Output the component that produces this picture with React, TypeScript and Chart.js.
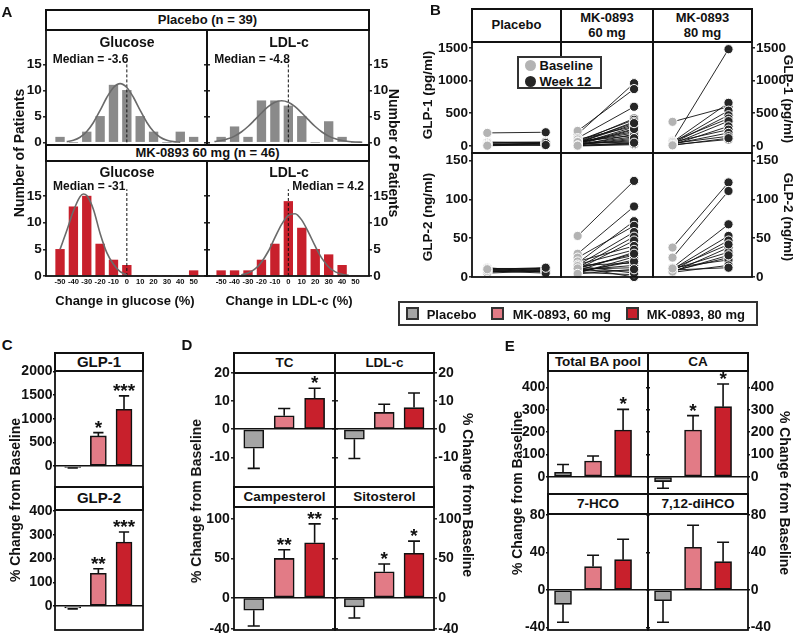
import React, { useEffect, useRef } from 'react';
import { Chart, registerables } from 'chart.js';

Chart.register(...registerables);

const FONT = '"Liberation Sans", Arial, Helvetica, sans-serif';
const INK = '#111111';

// ---------------- Panel A : histograms ----------------
const binCenters = [-50, -40, -30, -20, -10, 0, 10, 20, 30, 40, 50];
const changeTicks = [-50, -40, -30, -20, -10, 0, 10, 20, 30, 40, 50];
const countTicks = [0, 5, 10, 15];
const placeboGlucoseCounts = [1, 0, 2, 5, 11, 10, 5, 2, 0, 2, 1];
const placeboLdlCounts = [1, 3, 1, 8, 8, 7, 5, 0, 4, 1, 0];
const mk60GlucoseCounts = [5, 13, 15, 6, 3, 2, 0, 0, 0, 0, 1];
const mk60LdlCounts = [1, 1, 1, 3, 6, 14, 9, 5, 4, 2, 0];
const placeboGlucoseFitX = [-45, -40, -35, -30, -25, -20, -15, -10, -5, 0, 5, 10, 15, 20, 25, 30, 35, 40];
const placeboGlucoseFitY = [0.15, 0.41, 0.99, 2.09, 3.83, 6.15, 8.63, 10.56, 11.3, 10.56, 8.63, 6.15, 3.83, 2.09, 0.99, 0.41, 0.15, 0.05];
const placeboLdlFitX = [-55, -50, -45, -40, -35, -30, -25, -20, -15, -10, -5, 0, 5, 10, 15, 20, 25, 30, 35, 40, 45, 50, 55];
const placeboLdlFitY = [0.17, 0.35, 0.68, 1.21, 2.0, 3.05, 4.32, 5.65, 6.86, 7.7, 8, 7.7, 6.86, 5.65, 4.32, 3.05, 2.0, 1.21, 0.68, 0.35, 0.17, 0.08, 0.03];
const mk60GlucoseFitX = [-50, -45, -40, -35, -32.5, -30, -25, -20, -15, -10, -5, 0];
const mk60GlucoseFitY = [5, 8.5, 12.2, 14.9, 15.4, 15.1, 12.5, 8.0, 4.4, 2.2, 0.8, 0.2];
const mk60LdlFitX = [-35, -30, -25, -20, -15, -10, -5, 0, 5, 10, 15, 20, 25, 30, 35, 40, 45];
const mk60LdlFitY = [0.2, 0.55, 1.27, 2.6, 4.6, 7.2, 9.7, 11.4, 11.7, 10.5, 8.2, 5.6, 3.3, 1.7, 0.78, 0.31, 0.1];
const medianPlaceboGlucose = '-3.6';
const medianPlaceboLdl = '-4.8';
const medianMk60Glucose = '-31';
const medianMk60Ldl = '4.2';

// ---------------- Panel B : individual GLP-1 / GLP-2 ----------------
const glp1Ticks = [0, 500, 1000, 1500];
const glp2Ticks = [0, 50, 100, 150];
const glp1PlaceboBaseline = [200, 60, 45, 30, 20, 10, 50, 30, 15, 5];
const glp1PlaceboWeek12 = [210, 55, 50, 40, 30, 20, 60, 10, 45, 15];
const glp1Mk60Baseline = [180, 230, 120, 60, 80, 40, 50, 30, 20, 60, 10, 30, 20, 40, 10, 0, 100, 50, 70, 30, 20, 40, 60, 10, 5];
const glp1Mk60Week12 = [960, 870, 600, 420, 400, 370, 330, 290, 250, 220, 180, 140, 100, 60, 40, 20, 300, 200, 160, 80, 120, 260, 350, 30, 50];
const glp1Mk80Baseline = [80, 370, 60, 50, 40, 70, 30, 20, 60, 30, 40, 20, 10];
const glp1Mk80Week12 = [1480, 600, 660, 540, 470, 420, 380, 300, 250, 200, 150, 100, 120];
const glp2PlaceboBaseline = [10, 8, 6, 12, 9, 7, 11, 5, 8, 10];
const glp2PlaceboWeek12 = [8, 10, 12, 6, 9, 7, 11, 8, 5, 12];
const glp2Mk60Baseline = [53, 30, 18, 25, 15, 12, 10, 20, 8, 12, 6, 15, 10, 8, 6, 12, 16, 5, 9, 14, 7, 11, 4];
const glp2Mk60Week12 = [124, 91, 72, 66, 58, 52, 47, 40, 32, 28, 22, 18, 12, 8, 3, 0, 35, 26, 15, 5, 20, 30, 10];
const glp2Mk80Baseline = [38, 25, 12, 10, 8, 6, 10, 8, 12, 6, 9, 7, 11];
const glp2Mk80Week12 = [122, 111, 68, 53, 47, 38, 32, 25, 22, 15, 12, 28, 42];

// ---------------- Panels C, D, E : % change from baseline ----------------
const groups = ['Placebo', 'MK-0893, 60 mg', 'MK-0893, 80 mg'];
const groupColors = ['#a5a5a5', '#e27b86', '#c8202c'];
const glp1Change = [-28, 636, 1200];
const glp1ChangeErr = [-40, 705, 1483];
const glp1Stars = ['', '*', '***'];
const glp2Change = [-8.4, 138, 270];
const glp2ChangeErr = [-12, 157, 312];
const glp2Stars = ['', '**', '***'];
const tcChange = [-6.7, 4.8, 11];
const tcErr = [-13.9, 7.4, 14.6];
const tcStars = ['', '', '*'];
const ldlChange = [-3.5, 6, 7.7];
const ldlErr = [-10.4, 8.9, 12.9];
const ldlStars = ['', '', ''];
const campesterolChange = [-16, 50, 70];
const campesterolErr = [-36, 61, 94];
const campesterolStars = ['', '**', '**'];
const sitosterolChange = [-11.7, 33, 56.6];
const sitosterolErr = [-25.8, 43, 72];
const sitosterolStars = ['', '*', '*'];
const totalBaChange = [20, 70, 209];
const totalBaErr = [55, 93, 302];
const totalBaStars = ['', '', '*'];
const caChange = [-22, 209, 314];
const caErr = [-52, 274, 416];
const caStars = ['', '*', '*'];
const hco7Change = [-15.3, 24.9, 32.3];
const hco7Err = [-34.5, 37, 54];
const hco7Stars = ['', '', ''];
const dihco712Change = [-11.4, 45.5, 30.2];
const dihco712Err = [-34.5, 69, 50.9];
const dihco712Stars = ['', '', ''];
const glp1PctTicks = [0, 500, 1000, 1500, 2000];
const glp2PctTicks = [0, 100, 200, 300, 400];
const lipidTopTicks = [-10, 0, 10, 20];
const sterolTicks = [-40, 0, 50, 100];
const baTopTicks = [0, 100, 200, 300, 400];
const baBottomTicks = [-40, 0, 40, 80];

// ---------------- chart helpers ----------------
const PADL = 50, PADR = 50, PADT = 12, PADB = 22;
type Side = 'labels' | 'marks' | 'none';
type Note = { x: number; y: number; text: string; size: number; align?: any; baseline?: any; dx?: number; dy?: number };
type Spec = {
  type: 'bar' | 'scatter';
  l: number; t: number; w: number; h: number;
  xr: [number, number]; yr: [number, number];
  yTicks: number[];
  left: Side; right: Side;
  font: number; tickLen: number; tickPad: number;
  xTicks?: number[]; xFont?: number;
  zeroLine?: boolean;
  datasets: any[];
  notes?: Note[];
};

function makeConfig(s: Spec): any {
  const font = { family: FONT, size: s.font, weight: 'bold' };
  const yAxis = (side: 'left' | 'right') => {
    const mode = side === 'left' ? s.left : s.right;
    const zero = side === 'left' && !!s.zeroLine;
    return {
      type: 'linear', position: side, min: s.yr[0], max: s.yr[1], offset: false,
      afterBuildTicks: (sc: any) => { sc.ticks = s.yTicks.map((v) => ({ value: v })); },
      afterFit: (sc: any) => { sc.width = side === 'left' ? PADL : PADR; },
      grid: {
        display: mode !== 'none' || zero,
        drawOnChartArea: zero,
        drawTicks: mode !== 'none',
        tickLength: s.tickLen,
        lineWidth: 1.6,
        tickWidth: 1.4,
        color: (c: any) => (c.tick && c.tick.value === 0 ? INK : 'rgba(0,0,0,0)'),
        tickColor: INK,
      },
      border: { display: false },
      ticks: { display: mode === 'labels', font, color: INK, padding: s.tickPad, callback: (v: any) => String(v) },
    };
  };
  const xTicks = s.xTicks;
  return {
    type: s.type,
    data: { datasets: s.datasets },
    options: {
      responsive: false, maintainAspectRatio: false, animation: false, devicePixelRatio: 1,
      events: [],
      layout: { padding: { top: PADT, left: 0, right: 0, bottom: 0 } },
      plugins: { legend: { display: false }, tooltip: { enabled: false }, title: { display: false } },
      scales: {
        x: {
          type: 'linear', position: 'bottom', min: s.xr[0], max: s.xr[1], offset: false,
          afterBuildTicks: xTicks ? (sc: any) => { sc.ticks = xTicks.map((v) => ({ value: v })); } : undefined,
          afterFit: (sc: any) => { sc.height = PADB; },
          grid: { display: false, drawTicks: false },
          border: { display: false },
          ticks: {
            display: !!xTicks, autoSkip: false, maxRotation: 0, minRotation: 0, padding: 1.2, color: INK,
            font: { family: FONT, size: s.xFont || 8, weight: 'bold' }, callback: (v: any) => String(v),
          },
        },
        y: yAxis('left'),
        y2: yAxis('right'),
      },
    },
    plugins: [
      {
        id: 'frameAndNotes',
        afterDatasetsDraw(chart: any) {
          const { ctx, chartArea: a } = chart;
          ctx.save();
          ctx.strokeStyle = INK;
          ctx.lineWidth = 1.8;
          ctx.strokeRect(a.left, a.top, a.right - a.left, a.bottom - a.top);
          for (const n of s.notes || []) {
            const px = chart.scales.x.getPixelForValue(n.x) + (n.dx || 0);
            const py = chart.scales.y.getPixelForValue(n.y) + (n.dy || 0);
            ctx.font = `bold ${n.size}px ${FONT}`;
            ctx.fillStyle = INK;
            ctx.textAlign = n.align || 'center';
            ctx.textBaseline = n.baseline || 'alphabetic';
            ctx.fillText(n.text, px, py);
          }
          ctx.restore();
        },
      },
    ],
  };
}

function Plot({ spec }: { spec: Spec }) {
  const ref = useRef<HTMLCanvasElement>(null);
  const W = spec.w + PADL + PADR;
  const H = spec.h + PADT + PADB;
  useEffect(() => {
    const chart = new Chart(ref.current as HTMLCanvasElement, makeConfig(spec));
    return () => chart.destroy();
  }, []);
  return (
    <canvas
      ref={ref}
      width={W}
      height={H}
      style={{ position: 'absolute', left: spec.l - PADL, top: spec.t - PADT, width: W, height: H }}
    />
  );
}

// ---- panel A builder ----
function histSpec(o: any): Spec {
  const datasets = [
    {
      type: 'line', data: o.fitX.map((x: number, i: number) => ({ x, y: o.fitY[i] })),
      borderColor: '#6a6a6a', borderWidth: 1.6, pointRadius: 0, cubicInterpolationMode: 'monotone', order: 0,
    },
    {
      type: 'line', data: [{ x: 0, y: 0 }, { x: 0, y: o.dashTop }],
      borderColor: INK, borderWidth: 1, borderDash: [3, 2], pointRadius: 0, order: 1,
    },
    {
      type: 'bar', data: binCenters.map((x, i) => ({ x, y: o.counts[i] })),
      backgroundColor: o.color, borderWidth: 0, barThickness: 8.7, grouped: false, order: 2,
    },
  ];
  return {
    type: 'bar', l: o.l, t: o.t, w: o.w, h: o.h, xr: [-60.5, 60], yr: o.yr, yTicks: countTicks,
    left: o.left, right: o.right, font: 13.5, tickLen: 3, tickPad: 1.3,
    xTicks: o.xTicks, xFont: 7.6, datasets,
    notes: [{ x: 0, y: o.medY, text: `Median = ${o.median}`, size: 12, align: o.align, baseline: 'middle', dx: o.dx }],
  };
}

// ---- panel B builder ----
function pairSpec(o: any): Spec {
  const lines = o.base.map((b: number, i: number) => ({
    type: 'line', data: [{ x: 0, y: b }, { x: 1, y: o.wk[i] }],
    borderColor: INK, borderWidth: 0.9, pointRadius: 0, order: 3, clip: false,
  }));
  const datasets = [
    {
      type: 'scatter', data: o.wk.map((v: number) => ({ x: 1, y: v })),
      backgroundColor: '#262626', borderColor: '#ffffff', borderWidth: 1, pointRadius: 4.6, order: 1, clip: false,
    },
    {
      type: 'scatter', data: o.base.map((v: number) => ({ x: 0, y: v })),
      backgroundColor: '#b3b3b3', borderColor: '#ffffff', borderWidth: 1, pointRadius: 4.6, order: 2, clip: false,
    },
    ...lines,
  ];
  return {
    type: 'scatter', l: o.l, t: o.t, w: o.w, h: o.h, xr: o.xr, yr: o.yr, yTicks: o.ticks,
    left: o.left, right: o.right, font: 13.5, tickLen: 3, tickPad: 1, datasets,
  };
}

// ---- panels C/D/E builder ----
const CAP = 0.2;
function barSpec(o: any): Spec {
  const datasets: any[] = [
    {
      type: 'bar', data: o.values.map((v: number, i: number) => ({ x: i, y: v })),
      backgroundColor: groupColors, borderColor: INK, borderWidth: 1.6, borderSkipped: false,
      barThickness: o.barW, grouped: false, order: 1,
    },
  ];
  o.values.forEach((v: number, i: number) => {
    const e = o.errs[i];
    datasets.push({
      type: 'line', data: [{ x: i, y: v }, { x: i, y: e }, { x: i - CAP, y: e }, { x: i + CAP, y: e }],
      borderColor: INK, borderWidth: 1.6, pointRadius: 0, order: 2, clip: false,
    });
  });
  const notes: Note[] = [];
  o.stars.forEach((st: string, i: number) => {
    if (st) notes.push({ x: i, y: o.errs[i], text: st, size: 19, dy: 1 });
  });
  return {
    type: 'bar', l: o.l, t: o.t, w: o.w, h: o.h, xr: o.xr, yr: o.yr, yTicks: o.ticks,
    left: o.left, right: o.right, font: o.font || 14, tickLen: o.tickLen, tickPad: o.tickPad,
    zeroLine: true, datasets, notes,
  };
}

const RED = '#c8202c';
const GRAY = '#8a8a8a';

const specs: Spec[] = [
  // A
  histSpec({ l: 46, t: 30, w: 161, h: 115, yr: [-0.5, 21.6], counts: placeboGlucoseCounts, color: GRAY, fitX: placeboGlucoseFitX, fitY: placeboGlucoseFitY, dashTop: 15.3, median: medianPlaceboGlucose, medY: 15.9, align: 'right', dx: 1.5, left: 'labels', right: 'marks' }),
  histSpec({ l: 207, t: 30, w: 162, h: 115, yr: [-0.5, 21.6], counts: placeboLdlCounts, color: GRAY, fitX: placeboLdlFitX, fitY: placeboLdlFitY, dashTop: 15.2, median: medianPlaceboLdl, medY: 15.9, align: 'right', dx: 1.5, left: 'marks', right: 'labels' }),
  histSpec({ l: 46, t: 161, w: 161, h: 115, yr: [0, 21.6], counts: mk60GlucoseCounts, color: RED, fitX: mk60GlucoseFitX, fitY: mk60GlucoseFitY, dashTop: 16.3, median: medianMk60Glucose, medY: 16.8, align: 'right', dx: -1.5, left: 'labels', right: 'marks', xTicks: changeTicks }),
  histSpec({ l: 207, t: 161, w: 162, h: 115, yr: [0, 21.6], counts: mk60LdlCounts, color: RED, fitX: mk60LdlFitX, fitY: mk60LdlFitY, dashTop: 16.3, median: medianMk60Ldl, medY: 16.8, align: 'left', dx: 4, left: 'marks', right: 'labels', xTicks: changeTicks }),
  // B
  pairSpec({ l: 472, t: 42, w: 89, h: 111, xr: [-0.262, 1.262], yr: [-107, 1590], ticks: glp1Ticks, left: 'labels', right: 'none', base: glp1PlaceboBaseline, wk: glp1PlaceboWeek12 }),
  pairSpec({ l: 561, t: 42, w: 92, h: 111, xr: [-0.295, 1.336], yr: [-107, 1590], ticks: glp1Ticks, left: 'none', right: 'none', base: glp1Mk60Baseline, wk: glp1Mk60Week12 }),
  pairSpec({ l: 653, t: 42, w: 99, h: 111, xr: [-0.349, 1.42], yr: [-107, 1590], ticks: glp1Ticks, left: 'none', right: 'labels', base: glp1Mk80Baseline, wk: glp1Mk80Week12 }),
  pairSpec({ l: 472, t: 153, w: 89, h: 124, xr: [-0.262, 1.262], yr: [0, 160], ticks: glp2Ticks, left: 'labels', right: 'none', base: glp2PlaceboBaseline, wk: glp2PlaceboWeek12 }),
  pairSpec({ l: 561, t: 153, w: 92, h: 124, xr: [-0.295, 1.336], yr: [0, 160], ticks: glp2Ticks, left: 'none', right: 'none', base: glp2Mk60Baseline, wk: glp2Mk60Week12 }),
  pairSpec({ l: 653, t: 153, w: 99, h: 124, xr: [-0.349, 1.42], yr: [0, 160], ticks: glp2Ticks, left: 'none', right: 'labels', base: glp2Mk80Baseline, wk: glp2Mk80Week12 }),
  // C
  barSpec({ l: 55, t: 371, w: 88, h: 116, xr: [-0.69, 2.74], yr: [-445, 2010], ticks: glp1PctTicks, left: 'labels', right: 'none', tickLen: 2, tickPad: 0.5, barW: 16, values: glp1Change, errs: glp1ChangeErr, stars: glp1Stars }),
  barSpec({ l: 55, t: 510, w: 88, h: 120, xr: [-0.69, 2.74], yr: [-101, 405], ticks: glp2PctTicks, left: 'labels', right: 'none', tickLen: 2, tickPad: 0.5, barW: 16, values: glp2Change, errs: glp2ChangeErr, stars: glp2Stars }),
  // D
  barSpec({ l: 234, t: 373, w: 101, h: 114, xr: [-0.65, 2.67], yr: [-20.5, 20], ticks: lipidTopTicks, left: 'labels', right: 'marks', tickLen: 3, tickPad: 1.3, barW: 20, values: tcChange, errs: tcErr, stars: tcStars }),
  barSpec({ l: 335, t: 373, w: 99, h: 114, xr: [-0.65, 2.67], yr: [-20.5, 20], ticks: lipidTopTicks, left: 'marks', right: 'labels', tickLen: 3, tickPad: 1.3, barW: 20, values: ldlChange, errs: ldlErr, stars: ldlStars }),
  barSpec({ l: 234, t: 507, w: 101, h: 123, xr: [-0.65, 2.67], yr: [-41.1, 115.5], ticks: sterolTicks, left: 'labels', right: 'marks', tickLen: 3, tickPad: 1.3, barW: 20, values: campesterolChange, errs: campesterolErr, stars: campesterolStars }),
  barSpec({ l: 335, t: 507, w: 99, h: 123, xr: [-0.65, 2.67], yr: [-41.1, 115.5], ticks: sterolTicks, left: 'marks', right: 'labels', tickLen: 3, tickPad: 1.3, barW: 20, values: sitosterolChange, errs: sitosterolErr, stars: sitosterolStars }),
  // E
  barSpec({ l: 548, t: 371, w: 100, h: 123, xr: [-0.5, 2.83], yr: [-77.6, 474], ticks: baTopTicks, left: 'labels', right: 'marks', tickLen: 2, tickPad: 0.7, barW: 17, values: totalBaChange, errs: totalBaErr, stars: totalBaStars }),
  barSpec({ l: 648, t: 371, w: 100, h: 123, xr: [-0.5, 2.83], yr: [-77.6, 474], ticks: baTopTicks, left: 'marks', right: 'labels', tickLen: 2, tickPad: 0.7, barW: 17, values: caChange, errs: caErr, stars: caStars }),
  barSpec({ l: 548, t: 514, w: 100, h: 116, xr: [-0.5, 2.83], yr: [-42.7, 81], ticks: baBottomTicks, left: 'labels', right: 'marks', tickLen: 2, tickPad: 0.7, barW: 17, values: hco7Change, errs: hco7Err, stars: hco7Stars }),
  barSpec({ l: 648, t: 514, w: 100, h: 116, xr: [-0.5, 2.83], yr: [-42.7, 81], ticks: baBottomTicks, left: 'marks', right: 'labels', tickLen: 2, tickPad: 0.7, barW: 17, values: dihco712Change, errs: dihco712Err, stars: dihco712Stars }),
];

// ---------------- HTML text helpers ----------------
function Txt({ x, y, size, rot = 0, children, anchor = 'center' }: any) {
  const tx = anchor === 'left' ? '0' : '-50%';
  return (
    <div
      style={{
        position: 'absolute', left: x, top: y, transform: `translate(${tx},-50%) rotate(${rot}deg)`,
        whiteSpace: 'nowrap', fontFamily: FONT, fontWeight: 'bold', fontSize: size, lineHeight: 1, color: INK,
      }}
    >
      {children}
    </div>
  );
}

function Cell({ l, t, w, h, size, children }: any) {
  return (
    <div
      style={{
        position: 'absolute', left: l - 1, top: t - 1, width: w + 2, height: h + 2, boxSizing: 'border-box',
        border: `2px solid ${INK}`, display: 'flex', alignItems: 'center', justifyContent: 'center', textAlign: 'center',
        fontFamily: FONT, fontWeight: 'bold', fontSize: size, lineHeight: 1.08, color: INK, background: '#fff',
      }}
    >
      <div>{children}</div>
    </div>
  );
}

function Dot({ x, y, color }: any) {
  return (
    <div style={{ position: 'absolute', left: x - 5.5, top: y - 5.5, width: 11, height: 11, borderRadius: '50%', background: color }} />
  );
}

function Swatch({ x, y, color }: any) {
  return (
    <div style={{ position: 'absolute', left: x, top: y - 6.5, width: 13, height: 13, boxSizing: 'border-box', border: '2px solid #333', background: color }} />
  );
}

export default function App() {
  return (
    <div style={{ position: 'absolute', left: 0, top: 0, width: 799, height: 633, background: '#fff', overflow: 'hidden' }}>
      {specs.map((s, i) => (
        <Plot key={i} spec={s} />
      ))}

      {/* panel letters */}
      <Txt x={7} y={10.5} size={15}>A</Txt>
      <Txt x={435.3} y={8.7} size={15}>B</Txt>
      <Txt x={7.2} y={344} size={15}>C</Txt>
      <Txt x={187} y={344} size={15}>D</Txt>
      <Txt x={509.7} y={345} size={15}>E</Txt>

      {/* Panel A */}
      <Cell l={46} t={10} w={323} h={20} size={13}>Placebo (n = 39)</Cell>
      <Cell l={46} t={145} w={323} h={16} size={13}>MK-0893 60 mg (n = 46)</Cell>
      <Txt x={127} y={42} size={14}>Glucose</Txt>
      <Txt x={289} y={42} size={14}>LDL-c</Txt>
      <Txt x={127} y={172} size={14}>Glucose</Txt>
      <Txt x={289} y={172} size={14}>LDL-c</Txt>
      <Txt x={125} y={300} size={13}>Change in glucose (%)</Txt>
      <Txt x={289} y={300} size={13}>Change in LDL-c (%)</Txt>
      <Txt x={19} y={153} size={14} rot={-90}>Number of Patients</Txt>
      <Txt x={394} y={153} size={14} rot={90}>Number of Patients</Txt>

      {/* Panel B */}
      <Cell l={472} t={9} w={89} h={33} size={13}>Placebo</Cell>
      <Cell l={561} t={9} w={92} h={33} size={13}>MK-0893<br />60 mg</Cell>
      <Cell l={653} t={9} w={99} h={33} size={13}>MK-0893<br />80 mg</Cell>
      <Txt x={428} y={95} size={13.5} rot={-90}>GLP-1 (pg/ml)</Txt>
      <Txt x={788} y={99} size={13.5} rot={90}>GLP-1 (pg/ml)</Txt>
      <Txt x={428} y={217} size={13.5} rot={-90}>GLP-2 (ng/ml)</Txt>
      <Txt x={788} y={217} size={13.5} rot={90}>GLP-2 (ng/ml)</Txt>
      <div style={{ position: 'absolute', left: 517, top: 56, width: 85, height: 33, boxSizing: 'border-box', border: '2px solid #333', background: '#fff' }} />
      <Dot x={530} y={65} color="#b3b3b3" />
      <Dot x={530} y={81} color="#262626" />
      <Txt x={539.5} y={65} size={13} anchor="left">Baseline</Txt>
      <Txt x={539.5} y={81} size={13} anchor="left">Week 12</Txt>

      {/* shared legend */}
      <div style={{ position: 'absolute', left: 398, top: 301, width: 360, height: 25, boxSizing: 'border-box', border: '2px solid #333', background: '#fff' }} />
      <Swatch x={405.5} y={313.5} color={groupColors[0]} />
      <Txt x={426.7} y={313.5} size={13} anchor="left">{groups[0]}</Txt>
      <Swatch x={491} y={313.5} color={groupColors[1]} />
      <Txt x={512.7} y={313.5} size={13} anchor="left">{groups[1]}</Txt>
      <Swatch x={626} y={313.5} color={groupColors[2]} />
      <Txt x={646.7} y={313.5} size={13} anchor="left">{groups[2]}</Txt>

      {/* Panel C */}
      <Cell l={55} t={353} w={88} h={18} size={15}>GLP-1</Cell>
      <Cell l={55} t={487} w={88} h={23} size={15}>GLP-2</Cell>
      <Txt x={14.5} y={500} size={14} rot={-90}>% Change from Baseline</Txt>

      {/* Panel D */}
      <Cell l={234} t={353} w={101} h={20} size={13.5}>TC</Cell>
      <Cell l={335} t={353} w={99} h={20} size={13.5}>LDL-c</Cell>
      <Cell l={234} t={487} w={101} h={20} size={13.5}>Campesterol</Cell>
      <Cell l={335} t={487} w={99} h={20} size={13.5}>Sitosterol</Cell>
      <Txt x={195.7} y={501} size={14} rot={-90}>% Change from Baseline</Txt>
      <Txt x={468.3} y={495} size={14} rot={90}>% Change from Baseline</Txt>

      {/* Panel E */}
      <Cell l={548} t={353} w={100} h={18} size={13.5}>Total BA pool</Cell>
      <Cell l={648} t={353} w={100} h={18} size={13.5}>CA</Cell>
      <Cell l={548} t={494} w={100} h={20} size={13.5}>7-HCO</Cell>
      <Cell l={648} t={494} w={100} h={20} size={13.5}>7,12-diHCO</Cell>
      <Txt x={516.7} y={493} size={14} rot={-90}>% Change from Baseline</Txt>
      <Txt x={785} y={493} size={14} rot={90}>% Change from Baseline</Txt>
    </div>
  );
}
